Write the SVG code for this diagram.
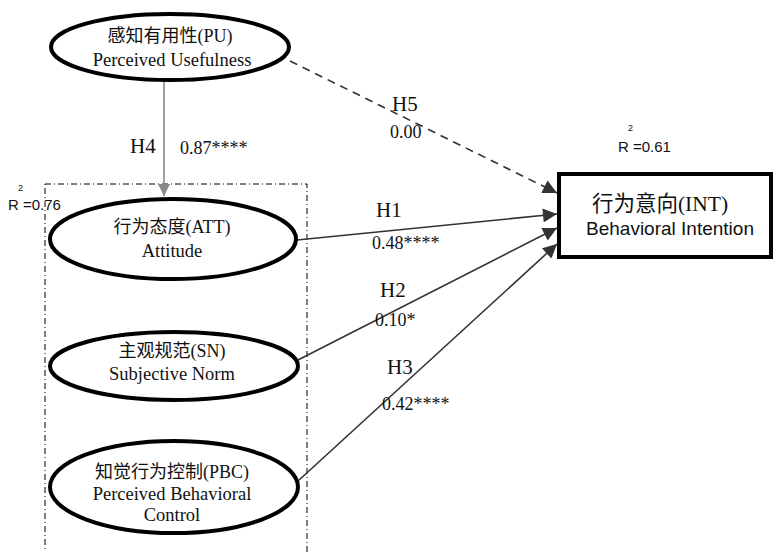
<svg xmlns="http://www.w3.org/2000/svg" width="774" height="552" viewBox="0 0 774 552">
<defs>
<marker id="ahd" viewBox="0 0 10 10" refX="10" refY="5" markerWidth="16" markerHeight="14" markerUnits="userSpaceOnUse" orient="auto">
<path d="M0,0 L10,5 L0,10 z" fill="#333"/>
</marker>
<marker id="ahg" viewBox="0 0 10 10" refX="10" refY="5" markerWidth="12" markerHeight="12" markerUnits="userSpaceOnUse" orient="auto">
<path d="M0,0 L10,5 L0,10 z" fill="#888"/>
</marker>
</defs>
<style>
.ell{fill:#fff;stroke:#000;stroke-width:4}
.t{font-family:'Liberation Serif','Times New Roman','DejaVu Serif','Noto Sans CJK SC',serif;fill:#111;text-anchor:middle}
.cn{font-size:18px}
.en{font-size:18.5px}
.lab{font-family:'Liberation Serif','Times New Roman',serif;font-size:21px;fill:#111}
.num{font-family:'Liberation Serif','Times New Roman',serif;font-size:18px;fill:#111}
.r2{font-family:'Liberation Sans',Arial,sans-serif;font-size:15px;fill:#111}
.sup{font-family:'Liberation Sans',Arial,sans-serif;font-size:9px;fill:#111}
.con{stroke:#333;stroke-width:1.6;fill:none}
</style>
<rect x="45" y="184" width="262" height="380" fill="none" stroke="#000" stroke-width="1" stroke-dasharray="6,3,1,3"/>
<g id="connectors">
<line x1="164" y1="80" x2="164" y2="196" stroke="#888" stroke-width="1.6" marker-end="url(#ahg)"/>
<line x1="290" y1="61" x2="557" y2="193" class="con" stroke-dasharray="8,6" marker-end="url(#ahd)"/>
<line x1="297" y1="240" x2="557" y2="214" class="con" marker-end="url(#ahd)"/>
<line x1="298" y1="360" x2="557" y2="228" class="con" marker-end="url(#ahd)"/>
<line x1="298" y1="481" x2="557" y2="244" class="con" marker-end="url(#ahd)"/>
</g>
<g id="PU">
<ellipse cx="170" cy="47" rx="119" ry="33" class="ell"/>
<text x="170" y="42" class="t cn">感知有用性(PU)</text>
<text x="172" y="66" class="t en">Perceived Usefulness</text>
</g>
<g id="ATT">
<ellipse cx="173" cy="239" rx="123" ry="40" class="ell"/>
<text x="172" y="233" class="t cn">行为态度(ATT)</text>
<text x="172" y="257" class="t en">Attitude</text>
</g>
<g id="SN">
<ellipse cx="174" cy="366" rx="124" ry="34" class="ell"/>
<text x="172" y="357" class="t cn">主观规范(SN)</text>
<text x="172" y="380" class="t en">Subjective Norm</text>
</g>
<g id="PBC">
<ellipse cx="174" cy="487" rx="124" ry="46" class="ell"/>
<text x="172" y="478" class="t cn">知觉行为控制(PBC)</text>
<text x="172" y="500" class="t en">Perceived Behavioral</text>
<text x="172" y="521" class="t en">Control</text>
</g>
<g id="INT">
<rect x="559" y="174" width="212" height="83" fill="#fff" stroke="#000" stroke-width="4"/>
<text x="660" y="211" class="t" style="font-size:21.5px">行为意向(INT)</text>
<text x="670" y="235" class="t" style="font-size:19px;font-family:'Liberation Sans',Arial,sans-serif">Behavioral Intention</text>
</g>
<g id="labels">
<text x="130" y="153" class="lab">H4</text>
<text x="180" y="154" class="num">0.87****</text>
<text x="392" y="111" class="lab">H5</text>
<text x="390" y="138" class="num">0.00</text>
<text x="376" y="217" class="lab">H1</text>
<text x="372" y="249" class="num">0.48****</text>
<text x="380" y="297" class="lab">H2</text>
<text x="375" y="326" class="num">0.10*</text>
<text x="387" y="374" class="lab">H3</text>
<text x="382" y="410" class="num">0.42****</text>
<text x="18" y="191" class="sup">2</text>
<text x="8" y="210" class="r2">R =0.76</text>
<text x="628" y="131" class="sup">2</text>
<text x="618" y="152" class="r2">R =0.61</text>
</g>
</svg>
